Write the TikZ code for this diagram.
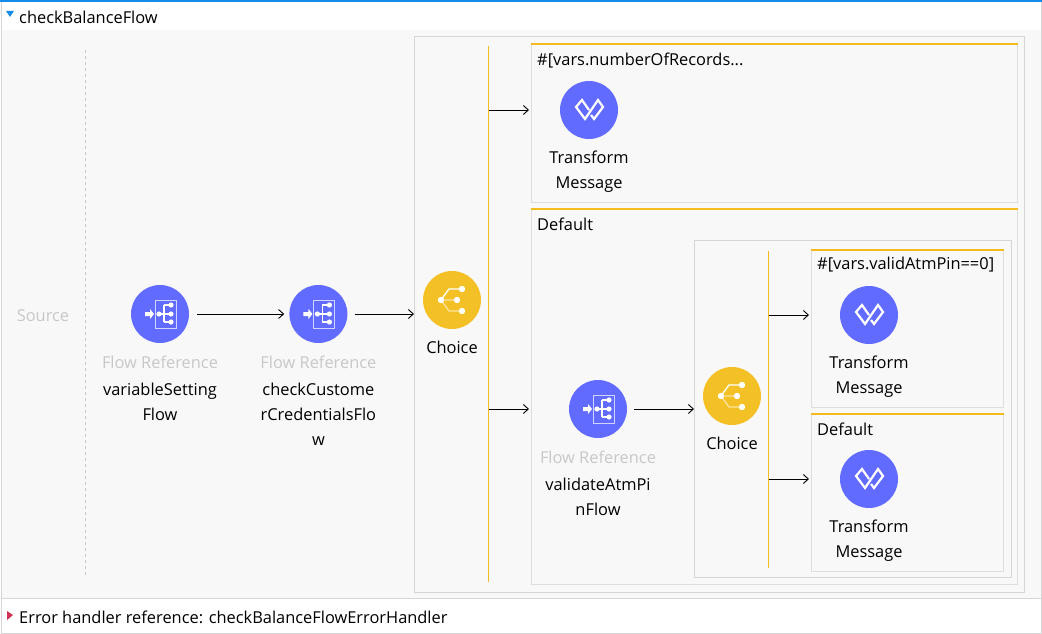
\documentclass[tikz,border=0pt]{standalone}
\usepackage{fontspec}
\setmainfont{Open Sans}
\usetikzlibrary{arrows.meta, positioning}
\definecolor{flowblue}{RGB}{98, 107, 255}
\definecolor{choiceyellow}{RGB}{243, 192, 38}
\definecolor{railyellow}{RGB}{243, 187, 30}
\definecolor{panelgray}{RGB}{248, 248, 248}
\definecolor{edgegray}{RGB}{214, 214, 214}
\definecolor{labelgray}{RGB}{200, 200, 200}
\definecolor{headerblue}{RGB}{20, 140, 235}
\definecolor{errorred}{RGB}{205, 50, 85}
\tikzset{
  blueicon/.style={
    circle, fill=flowblue, draw=none,
    minimum size=58pt, inner sep=0pt
  },
  yellowicon/.style={
    circle, fill=choiceyellow, draw=none,
    minimum size=58pt, inner sep=0pt
  },
  scopebox/.style={
    rectangle, draw=edgegray, line width=1pt, fill=panelgray,
    inner sep=0pt, anchor=north west
  },
  routebox/.style={
    rectangle, draw=edgegray!80!white, line width=1pt, fill=panelgray,
    inner sep=0pt, anchor=north west
  },
  nametext/.style={
    font=\fontsize{16.4}{25}\selectfont, text=black,
    align=center, inner sep=0pt
  },
  greytext/.style={
    font=\fontsize{16.4}{25}\selectfont, text=labelgray, inner sep=0pt
  },
  flowarrow/.style={draw=black, line width=0.9pt, -{Straight Barb[length=5pt,width=9pt]}},
  rail/.style={draw=railyellow, line width=1.2pt},
  routetop/.style={draw=railyellow, line width=2pt},
  flowmark/.pic={
    \draw[white!70!flowblue, line width=1pt] (-5,-14) rectangle (16,14);
    \fill[white] (-15,-2) -- (-10,-2) -- (-10,-5) -- (-6,0) -- (-10,5) -- (-10,2) -- (-15,2) -- cycle;
    \draw[white, line width=1.1pt] (-1,0) -- (11,0) (4,-9) -- (4,8) (4,-9) -- (11,-9) (4,8) -- (11,8);
    \foreach \px/\py in {-1/0, 11/-9, 11/0, 11/8} \fill[white] (\px,\py) circle (2.6);
  },
  choicemark/.pic={
    \draw[white!55!choiceyellow, line width=1.3pt] (-11,0) -- (5,0) (-11,0) -- (-3,11) -- (10,11);
    \draw[white, line width=1.3pt] (-11,0) -- (-3,-11) -- (10,-11);
    \foreach \px/\py in {-11/0, 5/0, 10/-11, 10/11} \fill[white] (\px,\py) circle (3.2);
  },
  transformmark/.pic={
    \draw[white, line width=2.2pt, line join=miter]
      (0,0) -- (-7,-10) -- (-13,-3) -- (-4,9) -- (9,-10) -- (14,-3) -- (5,9) -- (2,5);
  }
}
\begin{document}
\begin{tikzpicture}[x=1pt, y=-1pt]
  \useasboundingbox (0,0) rectangle (1042,634);
  \fill[white] (0,0) rectangle (1042,634);
  \fill[panelgray] (1,30) rectangle (1041,598);
  \fill[headerblue] (0,0) rectangle (1042,2);
  \draw[edgegray, line width=1pt] (1,2) -- (1,633) -- (1041,633) -- (1041,2);
  \draw[edgegray, line width=1pt] (1,598.5) -- (1041,598.5);

  \fill[headerblue] (6,11) -- (14,11) -- (10,17) -- cycle;
  \node[nametext, anchor=west] (flowname) at (19,17) {checkBalanceFlow};
  \fill[errorred] (7,611) -- (13,615) -- (7,620) -- cycle;
  \node[nametext, anchor=west] (errorname) at (19,617) {Error handler reference: checkBalanceFlowErrorHandler};

  \node[greytext] (source) at (43,316) {Source};
  \draw[labelgray, dashed, line width=0.8pt] (85,50) -- (85,578);

  % --- Cadres ---
  \node[scopebox, minimum width=610pt, minimum height=556pt] (outerscope) at (414,36) {};
  \node[routebox, minimum width=486pt, minimum height=157pt] (topbox) at (531,44.5) {};
  \node[routebox, minimum width=486pt, minimum height=375pt] (defaultbox) at (531,208.5) {};
  \node[scopebox, minimum width=317pt, minimum height=337pt] (innerscope) at (694,240) {};
  \node[routebox, minimum width=192pt, minimum height=157pt] (pinbox) at (811,249.5) {};
  \node[routebox, minimum width=192pt, minimum height=157pt] (lastbox) at (811,413.5) {};

  \draw[routetop] (topbox.north west) -- (topbox.north east);
  \draw[routetop] (defaultbox.north west) -- (defaultbox.north east);
  \draw[routetop] (pinbox.north west) -- (pinbox.north east);
  \draw[routetop] (lastbox.north west) -- (lastbox.north east);

  \node[nametext, anchor=west] (toptitle) at (537,60.5) {\#[vars.numberOfRecords...};
  \node[nametext, anchor=west] (defaulttitle) at (537,224) {Default};
  \node[nametext, anchor=west] (pintitle) at (817,265) {\#[vars.validAtmPin==0]};
  \node[nametext, anchor=west] (lasttitle) at (817,429) {Default};

  % --- Composants ---
  \node[blueicon] (varflow) at (160,314) {};
  \node[blueicon, right=100pt of varflow] (custflow) {};
  \node[yellowicon] (choicea) at (452,300) {};
  \node[blueicon] (transa) at (589,110) {};
  \node[blueicon] (pinflow) at (598,409) {};
  \node[yellowicon] (choiceb) at (732,396) {};
  \node[blueicon] (transb) at (869,315) {};
  \node[blueicon] (transc) at (869,479) {};

  \pic at (varflow) {flowmark};
  \pic at (custflow) {flowmark};
  \pic at (pinflow) {flowmark};
  \pic at (choicea) {choicemark};
  \pic at (choiceb) {choicemark};
  \pic at (transa) {transformmark};
  \pic at (transb) {transformmark};
  \pic at (transc) {transformmark};

  % --- Textes ---
  \node[greytext, below=13pt of varflow] (varref) {Flow Reference};
  \node[nametext, below=14pt of varref] (varname) {variableSetting\\Flow};
  \node[greytext, below=13pt of custflow] (custref) {Flow Reference};
  \node[nametext, below=14pt of custref] (custname) {checkCustome\\rCredentialsFlo\\w};
  \node[greytext, below=13pt of pinflow] (pinref) {Flow Reference};
  \node[nametext, below=14pt of pinref] (pinname) {validateAtmPi\\nFlow};
  \node[nametext, below=12pt of choicea] (choiceaname) {Choice};
  \node[nametext, below=12pt of choiceb] (choicebname) {Choice};
  \node[nametext, below=12pt of transa] (transaname) {Transform\\Message};
  \node[nametext, below=12pt of transb] (transbname) {Transform\\Message};
  \node[nametext, below=12pt of transc] (transcname) {Transform\\Message};

  % --- Connexions ---
  \coordinate (railatop) at (488.5,46);
  \coordinate (railabot) at (488.5,582);
  \coordinate (railbtop) at (768.5,251);
  \coordinate (railbbot) at (768.5,568);
  \draw[rail] (railatop) -- (railabot);
  \draw[rail] (railbtop) -- (railbbot);

  \draw[flowarrow, shorten <=8pt, shorten >=5pt] (varflow) -- (custflow);
  \draw[flowarrow, shorten <=7pt] (custflow.east) -- (custflow.east -| outerscope.west);
  \draw[flowarrow, shorten >=2pt] (railatop |- transa) -- (topbox.west |- transa);
  \draw[flowarrow, shorten >=2pt] (railatop |- pinflow) -- (defaultbox.west |- pinflow);
  \draw[flowarrow, shorten <=7pt] (pinflow.east) -- (pinflow.east -| innerscope.west);
  \draw[flowarrow, shorten >=2pt] (railbtop |- transb) -- (pinbox.west |- transb);
  \draw[flowarrow, shorten >=2pt] (railbtop |- transc) -- (lastbox.west |- transc);
\end{tikzpicture}
\end{document}
